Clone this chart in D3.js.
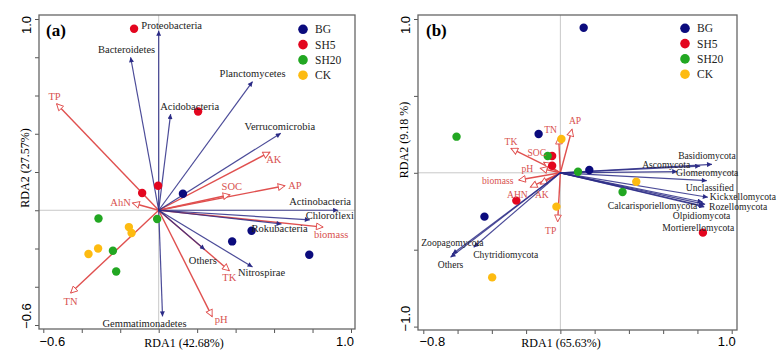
<!DOCTYPE html>
<html><head><meta charset="utf-8">
<script src="https://cdn.jsdelivr.net/npm/d3@7/dist/d3.min.js"></script>
<style>body{margin:0;background:#fff}svg{display:block}</style>
</head><body>
<svg id="c" width="780" height="358"></svg>
<script>
// ---------- DATA ----------
const groups = ["BG","SH5","SH20","CK"];
// Panel (a) bacteria
const aSpeciesNames = ["Proteobacteria","Bacteroidetes","Acidobacteria","Planctomycetes","Verrucomicrobia","Actinobacteria","Chloroflexi","Rokubacteria","Others","Nitrospirae","Gemmatimonadetes"];
const aSpeciesX = [0.00,-0.146,0.062,0.488,0.635,0.933,0.786,0.639,0.24,0.488,0.02];
const aSpeciesY = [0.938,0.80,0.503,0.673,0.403,0.0,-0.05,-0.072,-0.206,-0.297,-0.555];
const aEnvNames = ["TP","AK","AP","SOC","biomass","TK","pH","TN","AhN"];
const aEnvX = [-0.531,0.578,0.656,0.37,0.855,0.367,0.278,-0.458,-0.136];
const aEnvY = [0.557,0.304,0.128,0.081,-0.088,-0.316,-0.556,-0.433,0.038];
const aSiteGroup = ["BG","BG","BG","BG","SH5","SH5","SH5","SH5","SH20","SH20","SH20","SH20","CK","CK","CK","CK"];
const aSiteX = [0.126,0.483,0.382,0.783,-0.128,0.205,-0.086,-0.003,-0.313,-0.008,-0.238,-0.221,-0.155,-0.141,-0.315,-0.365];
const aSiteY = [0.086,-0.107,-0.163,-0.233,0.949,0.516,0.09,0.128,-0.043,-0.046,-0.212,-0.32,-0.088,-0.119,-0.2,-0.229];
// Panel (b) fungi
const bSpeciesNames = ["Basidiomycota","Ascomycota","Glomeromycota","Unclassified","Kickxellomycota","Rozellomycota","Olpidiomycota","Calcarisporiellomycota","Mortierellomycota","Zoopagomycota","Chytridiomycota","Others"];
const bSpeciesX = [0.885,0.816,0.682,0.855,0.861,0.845,0.836,0.83,0.84,-0.63,-0.506,-0.641];
const bSpeciesY = [0.055,0.044,0.008,-0.051,-0.159,-0.205,-0.216,-0.19,-0.222,-0.528,-0.484,-0.549];
const bEnvNames = ["AP","TN","TK","SOC","pH","biomass","AHN","AK","TP"];
const bEnvX = [0.068,-0.01,-0.288,-0.097,-0.117,-0.243,-0.175,-0.117,-0.016];
const bEnvY = [0.283,0.231,0.159,0.068,0.029,-0.047,-0.093,-0.073,-0.318];
const bSiteGroup = aSiteGroup;
const bSiteX = [0.136,-0.127,0.169,-0.443,-0.048,-0.048,-0.257,0.832,-0.606,-0.074,0.103,0.363,0.006,0.443,-0.023,-0.398];
const bSiteY = [0.943,0.252,0.018,-0.285,0.109,0.046,-0.181,-0.389,0.235,0.109,0.007,-0.125,0.22,-0.058,-0.22,-0.68];
const aXTicks = [-0.6,-0.4,-0.2,0,0.2,0.4,0.6,0.8,1.0];
const aYTicks = [-0.6,-0.4,-0.2,0,0.2,0.4,0.6,0.8,1.0];
const bXTicks = [-0.8,-0.6,-0.4,-0.2,0,0.2,0.4,0.6,0.8,1.0];
const bYTicks = [-1.0,-0.5,0,0.5,1.0];

// ---------- LAYOUT / STYLE ----------
const colors = {BG:"#0b0b7d",SH5:"#e3061f",SH20:"#22a722",CK:"#fdbb11"};
const navy = "#2b2b86", red = "#e0504f", redText = "#d8524f";
// label offsets (px) relative to arrow tips
const aSpOff = [[13,-5],[-4,-8],[19,-8],[0,-8],[-1,-7],[-18,-9],[20,-4.5],[-2,4],[-2,11],[9,5],[-18,7]];
const aEnvOff = [[-2,-7],[4,7],[10,0],[2,-8],[8,7],[0,7],[9,3],[0,8],[-12,0]];
const bSpOff = [[-5,-9],[-34,-2],[30,1],[3,7],[35,-0.5],[33,2.5],[-2,9.5],[-50,3],[-6,20.5],[0,-12],[32,7],[0,7]];
const bEnvOff = [[3,-9],[-8,-8],[0,-7],[-7,-10],[-13,0],[-21,0],[-13,7],[1.5,10],[-7,9]];

const svg = d3.select("#c");
const defs = svg.append("defs");
defs.append("marker").attr("id","hb").attr("viewBox","0 0 10 10").attr("refX",10).attr("refY",5)
  .attr("markerWidth",6).attr("markerHeight",5).attr("markerUnits","userSpaceOnUse").attr("orient","auto")
  .append("path").attr("d","M0,0L10,5L0,10Z").attr("fill",navy);
defs.append("marker").attr("id","hr").attr("viewBox","0 0 12 12").attr("refX",11).attr("refY",6)
  .attr("markerWidth",9).attr("markerHeight",8).attr("markerUnits","userSpaceOnUse").attr("orient","auto")
  .append("path").attr("d","M1,1L11,6L1,11Z").attr("fill","#fff").attr("stroke",red).attr("stroke-width",1.4);

function panel(cfg){
  const g = svg.append("g");
  const x = d3.scaleLinear().domain(cfg.xd).range(cfg.xr);
  const y = d3.scaleLinear().domain(cfg.yd).range(cfg.yr);
  const F = cfg.frame; // [l,t,r,b]
  g.append("line").attr("x1",F[0]).attr("x2",F[2]).attr("y1",y(0)).attr("y2",y(0)).attr("stroke","#c8c8c8").attr("stroke-width",1);
  g.append("line").attr("x1",x(0)).attr("x2",x(0)).attr("y1",F[1]).attr("y2",F[3]).attr("stroke","#c8c8c8").attr("stroke-width",1);
  const ax = g.append("g").attr("transform",`translate(0,${F[3]})`)
    .call(d3.axisBottom(x).tickValues(cfg.xt).tickSize(4).tickFormat(""));
  const ay = g.append("g").attr("transform",`translate(${F[0]},0)`)
    .call(d3.axisLeft(y).tickValues(cfg.yt).tickSize(4).tickFormat(""));
  [ax,ay].forEach(a=>{a.select(".domain").remove();a.selectAll("line").attr("stroke","#555");});
  g.append("rect").attr("x",F[0]).attr("y",F[1]).attr("width",F[2]-F[0]).attr("height",F[3]-F[1])
    .attr("fill","none").attr("stroke","#666").attr("stroke-width",1.3);
  const tf = d3.format(".1f");
  const xt0 = cfg.xt[0], xt1 = cfg.xt[cfg.xt.length-1];
  g.append("text").attr("x",x(xt0)+cfg.xlo[0]).attr("y",346).attr("text-anchor","middle")
    .attr("font-family","Liberation Sans, Arial").attr("font-size",13).text(tf(xt0));
  g.append("text").attr("x",x(xt1)+cfg.xlo[1]).attr("y",346).attr("text-anchor","middle")
    .attr("font-family","Liberation Sans, Arial").attr("font-size",13).text(tf(xt1));
  const yt0 = cfg.yt[0], yt1 = cfg.yt[cfg.yt.length-1];
  [[yt1,cfg.ylo[1]],[yt0,cfg.ylo[0]]].forEach(([v,o])=>{
    g.append("text").attr("transform",`translate(${cfg.ylx},${y(v)+o}) rotate(-90)`)
      .attr("text-anchor","middle").attr("font-family","Liberation Sans, Arial").attr("font-size",13).text(tf(v));
  });
  g.append("text").attr("x",cfg.xtitle[0]).attr("y",cfg.xtitle[1]).attr("text-anchor","middle")
    .attr("font-family","Liberation Serif, Times New Roman").attr("font-size",12).text(cfg.xlab);
  g.append("text").attr("transform",`translate(${cfg.ytitle[0]},${cfg.ytitle[1]}) rotate(-90)`).attr("text-anchor","middle")
    .attr("font-family","Liberation Serif, Times New Roman").attr("font-size",12).text(cfg.ylab);
  g.append("text").attr("x",cfg.tag[0]).attr("y",cfg.tag[1]).attr("font-family","Liberation Serif, Times New Roman")
    .attr("font-size",17).attr("font-weight","bold").text(cfg.tagText);
  cfg.envN.forEach((n,i)=>{
    g.append("line").attr("x1",x(0)).attr("y1",y(0)).attr("x2",x(cfg.envX[i])).attr("y2",y(cfg.envY[i]))
      .attr("stroke",red).attr("stroke-width",1.4).attr("marker-end","url(#hr)");
  });
  cfg.spN.forEach((n,i)=>{
    g.append("line").attr("x1",x(0)).attr("y1",y(0)).attr("x2",x(cfg.spX[i])).attr("y2",y(cfg.spY[i]))
      .attr("stroke",navy).attr("stroke-opacity",0.85).attr("stroke-width",1.2).attr("marker-end","url(#hb)");
  });
  cfg.siteG.forEach((gr,i)=>{
    g.append("circle").attr("cx",x(cfg.siteX[i])).attr("cy",y(cfg.siteY[i])).attr("r",4.2).attr("fill",colors[gr]);
  });
  cfg.envN.forEach((n,i)=>{
    g.append("text").attr("x",x(cfg.envX[i])+cfg.envOff[i][0]).attr("y",y(cfg.envY[i])+cfg.envOff[i][1])
      .attr("text-anchor","middle").attr("dominant-baseline","central").attr("fill",redText)
      .attr("font-family","Liberation Serif, Times New Roman").attr("font-size",cfg.fs).text(n);
  });
  cfg.spN.forEach((n,i)=>{
    g.append("text").attr("x",x(cfg.spX[i])+cfg.spOff[i][0]).attr("y",y(cfg.spY[i])+cfg.spOff[i][1])
      .attr("text-anchor","middle").attr("dominant-baseline","central").attr("fill","#222")
      .attr("font-family","Liberation Serif, Times New Roman").attr("font-size",cfg.fs).text(n);
  });
  groups.forEach((gr,i)=>{
    g.append("circle").attr("cx",cfg.leg[0]).attr("cy",cfg.leg[1]+i*15.3).attr("r",4.8).attr("fill",colors[gr]);
    g.append("text").attr("x",cfg.leg[0]+12).attr("y",cfg.leg[1]+i*15.3).attr("dominant-baseline","central")
      .attr("font-family","Liberation Serif, Times New Roman").attr("font-size",11.5).attr("fill","#222").text(gr);
  });
}

panel({xd:[-0.6,1.0],xr:[43.3,351],yd:[1.0,-0.6],yr:[19,325],frame:[39,15,355,329],
  xt:aXTicks,yt:aYTicks,xlo:[9,-6],ylo:[-9,6],ylx:31,
  xlab:"RDA1 (42.68%)",xtitle:[184,347],ylab:"RDA2 (27.57%)",ytitle:[29,168],
  tag:[46,36],tagText:"(a)",fs:10.5,
  spN:aSpeciesNames,spX:aSpeciesX,spY:aSpeciesY,spOff:aSpOff,
  envN:aEnvNames,envX:aEnvX,envY:aEnvY,envOff:aEnvOff,
  siteG:aSiteGroup,siteX:aSiteX,siteY:aSiteY,leg:[303,29.3]});
panel({xd:[-0.8,1.0],xr:[423.3,731.7],yd:[1.0,-1.0],yr:[19,326.6],frame:[418,15,737,330],
  xt:bXTicks,yt:bYTicks,xlo:[9,-5],ylo:[-8,6],ylx:410,
  xlab:"RDA1 (65.63%)",xtitle:[561,347],ylab:"RDA2 (9.18 %)",ytitle:[408,140],
  tag:[426,36],tagText:"(b)",fs:9.6,
  spN:bSpeciesNames,spX:bSpeciesX,spY:bSpeciesY,spOff:bSpOff,
  envN:bEnvNames,envX:bEnvX,envY:bEnvY,envOff:bEnvOff,
  siteG:bSiteGroup,siteX:bSiteX,siteY:bSiteY,leg:[685,28.3]});
</script>
</body></html>
